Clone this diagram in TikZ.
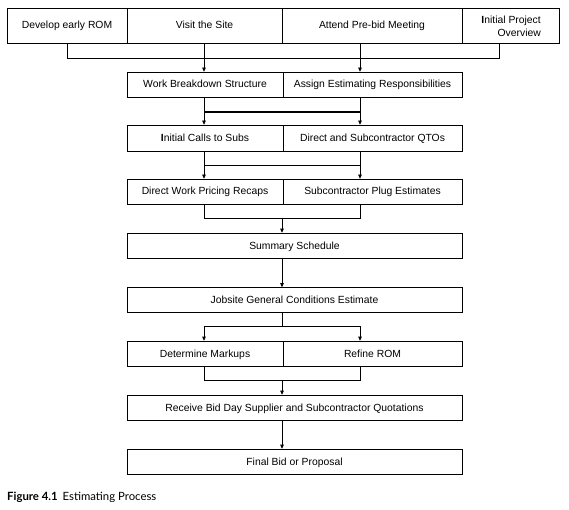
\documentclass[tikz,border=0pt]{standalone}
\usepackage{fontspec}
\setmainfont{Liberation Sans}
\newfontfamily\capfont{Lato}
\usetikzlibrary{arrows.meta}
\begin{document}
\begin{tikzpicture}[x=1bp,y=-1bp,
  box/.style={draw, line width=0.7bp, inner sep=0pt, anchor=center, align=center,
    text height=8bp, text depth=1bp,
    font=\fontsize{10.4}{12.5}\selectfont},
  link/.style={line width=0.7bp},
  thick link/.style={line width=1.8bp},
  arr/.style={line width=0.7bp, -{Triangle[length=4bp,width=3.6bp]}}]
\useasboundingbox[fill=white] (0,0) rectangle (569,510);
% top row (y 8..43)
\node[box, minimum width=120bp, minimum height=35bp] (dev)    at (67,25.5)  {Develop early ROM};
\node[box, minimum width=155bp, minimum height=35bp] (visit)  at (204.5,25.5) {Visit the Site};
\node[box, minimum width=180bp, minimum height=35bp] (attend) at (372,25.5) {Attend Pre-bid Meeting};
\node[box, minimum width=97bp,  minimum height=35bp] (ini)    at (510.5,25.5) {};
\node[anchor=east, inner sep=0pt, align=right, font=\fontsize{10.4}{12.5}\selectfont] (initxt) at (541,26.5) {\textbf{I}nitial Project\\Overview};
% row 2 (72..97)
\node[box, minimum width=156bp, minimum height=25bp] (wbs)    at (205,84.5) {Work Breakdown Structure};
\node[box, minimum width=179bp, minimum height=25bp] (assign) at (372.5,84.5) {Assign Estimating Responsibilities};
% row 3 (125..151)
\node[box, minimum width=156bp, minimum height=26bp] (calls)  at (205,138) {\textbf{I}nitial Calls to Subs};
\node[box, minimum width=179bp, minimum height=26bp] (qto)    at (372.5,138) {Direct and Subcontractor QTOs};
% row 4 (179..204)
\node[box, minimum width=156bp, minimum height=25bp] (recap)  at (205,191.5) {Direct Work Pricing Recaps};
\node[box, minimum width=179bp, minimum height=25bp] (plug)   at (372.5,191.5) {Subcontractor Plug Estimates};
% row 5
\node[box, minimum width=335bp, minimum height=25bp] (sched)  at (294.5,245.5) {Summary Schedule};
% row 6
\node[box, minimum width=335bp, minimum height=25bp] (gc)     at (294.5,300) {Jobsite General Conditions Estimate};
% row 7
\node[box, minimum width=156bp, minimum height=25bp] (mark)   at (205,353.5) {Determine Markups};
\node[box, minimum width=179bp, minimum height=25bp] (rom)    at (372.5,353.5) {Refine ROM};
% row 8
\node[box, minimum width=335bp, minimum height=25bp] (quote)  at (294.5,407.5) {Receive Bid Day Supplier and Subcontractor Quotations};
% row 9
\node[box, minimum width=335bp, minimum height=25bp] (final)  at (294.5,461.5) {Final Bid or Proposal};
% caption
\node[anchor=base west, inner sep=0pt, font=\capfont\fontsize{11.4}{13}\selectfont] (cap) at (7,500)
  {\textbf{Figure 4.1}\hspace{5bp}Estimating Process};

% guide coordinates
\coordinate (xL) at (204,0);
\coordinate (xR) at (360,0);
\coordinate (xM) at (282,0);
% top bus
\coordinate (t1) at (67,58);
\coordinate (t2) at (499,58);
\draw[link] (dev.south) -- (t1) -- (t2) -- (t2 |- ini.south);
\draw[arr] (visit.south -| xL) -- (wbs.north -| xL);
\draw[arr] (attend.south -| xR) -- (assign.north -| xR);
% row2 -> row3
\coordinate (b2L) at (204,112);
\coordinate (b2R) at (360,112);
\draw[arr] (wbs.south -| xL) -- (calls.north -| xL);
\draw[arr] (assign.south -| xR) -- (qto.north -| xR);
\draw[thick link] (b2L) -- (b2R);
% row3 -> row4
\coordinate (b3L) at (204,165);
\coordinate (b3R) at (360,165);
\draw[arr] (calls.south -| xL) -- (recap.north -| xL);
\draw[arr] (qto.south -| xR) -- (plug.north -| xR);
\draw[link] (b3L) -- (b3R);
% row4 -> row5
\coordinate (b4L) at (204,218);
\coordinate (b4R) at (360,218);
\coordinate (b4M) at (282,218);
\draw[link] (recap.south -| xL) -- (b4L) -- (b4R) -- (plug.south -| xR);
\draw[arr] (b4M) -- (sched.north -| xM);
% row5 -> row6
\draw[arr] (sched.south -| xM) -- (gc.north -| xM);
% row6 -> row7
\coordinate (b6L) at (204,326);
\coordinate (b6R) at (360,326);
\coordinate (b6M) at (282,326);
\draw[link] (gc.south -| xM) -- (b6M);
\draw[arr] (b6M) -- (b6L) -- (mark.north -| xL);
\draw[arr] (b6M) -- (b6R) -- (rom.north -| xR);
% row7 -> row8
\coordinate (b7L) at (204,380);
\coordinate (b7R) at (360,380);
\coordinate (b7M) at (282,380);
\draw[link] (mark.south -| xL) -- (b7L) -- (b7R) -- (rom.south -| xR);
\draw[arr] (b7M) -- (quote.north -| xM);
% row8 -> row9
\draw[arr] (quote.south -| xM) -- (final.north -| xM);
\end{tikzpicture}
\end{document}
